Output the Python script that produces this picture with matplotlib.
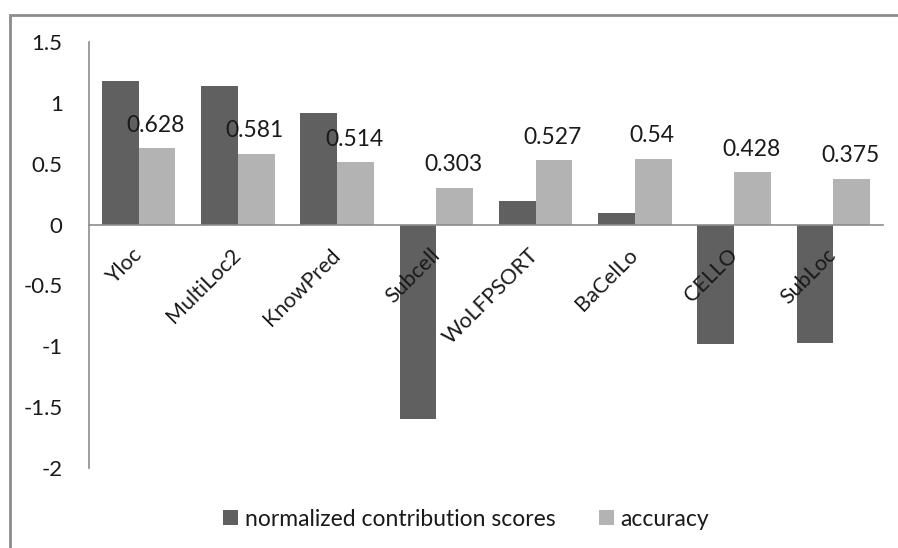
import numpy as np
import matplotlib
matplotlib.use("Agg")
import matplotlib.pyplot as plt
from matplotlib.patches import Rectangle

plt.rcParams['font.family'] = ['Lato', 'DejaVu Sans']

methods = ['Yloc', 'MultiLoc2', 'KnowPred', 'Subcell', 'WoLFPSORT', 'BaCelLo', 'CELLO', 'SubLoc']
norm_scores = [1.18, 1.135, 0.915, -1.595, 0.19, 0.097, -0.985, -0.97]
accuracy = [0.628, 0.581, 0.514, 0.303, 0.527, 0.54, 0.428, 0.375]
yticks = [-2, -1.5, -1, -0.5, 0, 0.5, 1, 1.5]

dark = '#606060'
light = '#b3b3b3'
txt = '#1a1a1a'

fig = plt.figure(figsize=(8.98, 5.48), dpi=100)
ax = fig.add_axes([89/898, 1-468/548, (883-89)/898, (468-42)/548])

x = np.arange(len(methods))
w = 0.37
ax.bar(x - w/2, norm_scores, w, color=dark, label='normalized contribution scores')
ax.bar(x + w/2, accuracy, w, color=light, label='accuracy')

for xi, v in zip(x, accuracy):
    ax.annotate(str(v), (xi + w/2, v), xytext=(-1, 9), textcoords='offset points',
                ha='center', va='bottom', fontsize=16.5, color=txt)

ax.set_xlim(-0.5, len(methods) - 0.5)
ax.set_ylim(-2, 1.5)
ax.set_yticks(yticks)
ax.set_yticklabels(['%g' % t for t in yticks])

for s in ['top', 'right']:
    ax.spines[s].set_visible(False)
ax.spines['bottom'].set_position(('data', 0))
ax.spines['bottom'].set_color('#8c8c8c')
ax.spines['left'].set_color('#8c8c8c')
ax.spines['bottom'].set_linewidth(1.2)
ax.spines['left'].set_linewidth(1.2)

ax.set_xticks(x)
ax.set_xticklabels(methods)
ax.tick_params(axis='x', length=0, pad=20, labelsize=15.5, labelcolor=txt)
ax.tick_params(axis='y', length=0, pad=19, labelsize=16, labelcolor=txt)
plt.setp(ax.get_xticklabels(), rotation=45, ha='right', va='center', rotation_mode='anchor')

fig.legend(loc='center', bbox_to_anchor=(466/898, 1-519/548), ncol=2, frameon=False,
           fontsize=16.5, handlelength=0.65, handleheight=0.65, handletextpad=0.3,
           columnspacing=1.9, labelcolor=txt)

fig.patches.append(Rectangle((10/898, -0.1), 1.0, 1-15/548 + 0.1, transform=fig.transFigure,
                             fill=False, edgecolor='#8c8c8c', linewidth=2))

fig.savefig('out.png', dpi=100)
